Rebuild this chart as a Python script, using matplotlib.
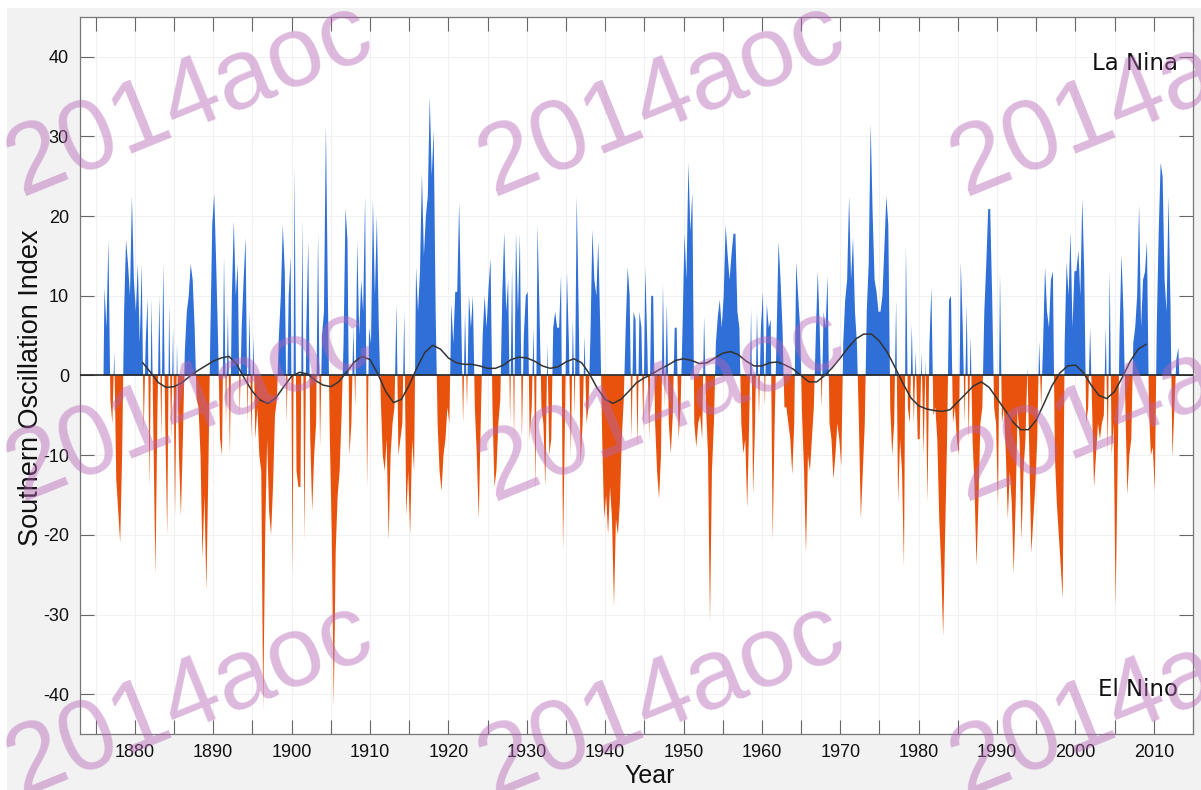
import numpy as np
import matplotlib
matplotlib.use("Agg")
import matplotlib.pyplot as plt
from matplotlib.patches import Rectangle
from matplotlib.ticker import MultipleLocator, FuncFormatter

plt.rcParams['axes.unicode_minus'] = False

# Quarterly Southern Oscillation Index values (4 per year)
first_year = 1876
soi_1870s = [11, 6, 17, -3,  -6, 3, -13, -17,  -21, -10, 8, 17,  14, 10, 22.5, 12]
soi_1880s = [8, 14, 4, 14,  -7, 4, 9.7, -14,  9.5, -8, -25, -5,  10, -8, 14, -6,
             -20, 9, -8, 6,  -17.6, 4, -10, -17.6,  -8, 3, 8, 10,  14, 12, 6, -3,
             -4, -10, -23, -15,  -27, -12, 5, 19]
soi_1890s = [22.8, 14, 4, -8,  -10, 15, -6, 8,  -10, 10, 19.4, 10,  14, -5, 6, 12,
             17.3, -6, 8, -8,  5, -8, -4, -10,  -12, -42, -20, -8,  -17, -20, -14, -5,
             -3, 5, 10, 18.9,  13, -6, 10, 15]
soi_1900s = [-25, 26, -12, -14,  -14, 19.6, -20.7, 6,  16.8, -8, -17, -10,  -6, 17.8, -9, 5,
             8, 31.4, 10, -8,  -20, -41.6, -22, -15,  -12, -5, 4, 21,  17, -10, -6, 6,
             -4, 16.8, 5, 12,  8, 22.5, -14, 6]
soi_1910s = [4, 22, 10, 20,  6, -3, -10, -12,  -8, -20.7, -10, -6,  -4, 9, -10, -8,
             -6, 8, -17.6, -12,  -20, -8, -12, 13.6,  8, 13, 25.4, 15,  20, 22.5, 35, 25,
             30.8, 8, -6, -12,  -14.5, -10, -8, -4]
soi_1920s = [-6, 9, 4, 10.5,  10.5, 21.7, 8, -6,  8, -4, 10, 6,  10, -4, -10, -18,
             -6, 5, 10, 6,  11, 14.7, -4, -14,  -12, -6, -3, 10,  18, 8, 12, -6,
             13.6, -8, 18, 8,  17.8, -8, 5, 10]
soi_1930s = [10.5, -8, -4, 6,  -14.5, 18.9, 8, -4,  -6, -14, 4, -10,  -8, 6, 8, 6,
             6, 12.6, -22, -6,  13, 4, -10, 7,  -5, 22.5, 8, -11,  -6, 5, -6, -4,
             5, 18.3, 12, 10,  16.8, 6, -8, -18]
soi_1940s = [-15, -20, -14, -18,  -29, -18, -20, -16,  -8, -3, 6, 13.6,  10, -8, 8, 7,
             -9, 8, 6, -7,  13.6, 4, -8, 10,  10, -6, -12, -15.5,  -10, 11.5, -4, 9,
             -6, -9.8, -5, 6,  6, -8, -4, 6]
soi_1950s = [17.8, 12, 26.7, 18,  23, -6, -9, -6,  -5, -8, 7.4, -4,  -10, -31, -12, -6,
             4, 7.4, 9.5, 6,  10, 18.9, 15.2, 12,  15.2, 17.8, 17.8, 8,  6, -6, -9.8, -8,
             -16.6, -6, 8.4, -15,  -6, 8, -5, 6]
soi_1960s = [10.5, -4, 9, 6,  7, -20.7, -6, 5,  16.8, 12, 6, -4,  -4, -6, -8, -12.4,
             -6, 14.2, 10, 6,  -5, -12, -22.3, -10,  -12, -8, -4, 5,  13.1, 6, -4, 8,
             6, 12.5, -6, -8,  -13, -10, -6, -8]
soi_1970s = [-11.4, 4, 9.5, 12,  22.5, 12, 17.3, 8,  4, -6, -18, -12,  -6, 8, 14, 31.6,
             20.4, 12, 10.5, 8,  8, 10, 16, 22.5,  18.9, -4, -10, -6,  9.5, -16, -8, -12,
             -24, 16.3, -4, -6,  6.4, -6, 3, -8]
soi_1980s = [-8, 3, -10, 2,  -16, 4, 11, -5,  -4, -8, -18, -24,  -32.7, -20, -8, 9.5,
             10, -6, -4, -8,  -10, 14.2, 6, -6,  9, -8, 5, -8,  -14, -23.9, -16, -6,
             -4, 8, 14, 20.9,  20.9, 10, -4, -6]
soi_1990s = [-16.6, 12.9, -6, -4,  -10, -18, -12, -16,  -24.9, -16, -4, -8,  -20.7, -12, -8, 1,
             -10, -22.3, -18, -14,  -8, 4.3, -4, 4,  13.6, 8, 6, 12,  13.1, -10, -16, -20,
             -23.9, -28, 4, 14.2,  10, 18, 6, 13.1]
soi_2000s = [13.1, 15.7, 10, 22.2,  13, -6, -4, 6,  -4, -14, -10, -6,  -8, -6, -5, 6,
             -9.8, 13.1, -10, -6,  -29, -12, 5, 15.2,  8, -4, -15, -10,  -8, 4, 6, 10,
             21.5, 6, 12, 13,  16.8, -4, -10, -9]
soi_2010s = [-14.5, 6, 18, 26.7,  25, 12, 8, 22.5,  9, -10.3, -4, 2,  3.5]

# Smoothed index (black curve), one value per year
smooth_years = list(range(1881, 2010))
smooth_vals = [1.6, 0.4, -0.9, -1.5, -1.4, -0.9, -0.1, 0.6, 1.2,
               1.8, 2.2, 2.4, 1.4, -0.4, -2.0, -3.1, -3.5, -2.8, -1.4,
               -0.1, 0.4, 0.2, -0.6, -1.2, -1.4, -0.8, 0.4, 1.7, 2.4,
               2.0, 0.2, -2.0, -3.4, -3.0, -1.2, 1.0, 2.9, 3.8, 3.3,
               2.2, 1.6, 1.4, 1.4, 1.2, 0.9, 0.9, 1.3, 2.0, 2.3,
               2.2, 1.8, 1.2, 0.9, 1.1, 1.7, 2.1, 1.6, 0.2, -1.6,
               -3.0, -3.5, -3.0, -2.0, -0.9, -0.3, 0.2, 0.8, 1.3, 1.9,
               2.1, 1.9, 1.5, 1.6, 2.2, 2.8, 3.0, 2.6, 1.8, 1.2,
               1.2, 1.6, 1.7, 1.3, 0.8, 0.0, -0.8, -0.8, 0.0, 1.0,
               2.2, 3.5, 4.6, 5.2, 5.2, 4.3, 2.9, 1.0, -1.0, -2.8,
               -3.8, -4.2, -4.4, -4.5, -4.3, -3.3, -2.3, -1.3, -0.8, -1.5,
               -2.9, -4.3, -5.8, -6.8, -6.8, -5.6, -3.5, -1.3, 0.3, 1.2,
               1.3, 0.4, -1.2, -2.5, -2.9, -2.0, -0.2, 1.8, 3.3, 3.9]

yticks = [-40, -30, -20, -10, 0, 10, 20, 30, 40]

soi = np.array(soi_1870s + soi_1880s + soi_1890s + soi_1900s + soi_1910s + soi_1920s +
               soi_1930s + soi_1940s + soi_1950s + soi_1960s + soi_1970s + soi_1980s +
               soi_1990s + soi_2000s + soi_2010s, dtype=float)
t = first_year + (np.arange(len(soi)) + 0.5) / 4.0
# close the series on the zero line at both ends
t = np.concatenate([[t[0] - 0.125], t, [t[-1] + 0.125]])
soi = np.concatenate([[0.0], soi, [0.0]])

W, H = 1201, 790
fig = plt.figure(figsize=(W / 100, H / 100), dpi=100)
fig.patch.set_facecolor('white')
fig.patches.append(Rectangle((7 / W, 0), 1, (H - 8) / H, transform=fig.transFigure,
                             facecolor='#f2f2f2', edgecolor='none', zorder=-10))

ax = fig.add_axes([80 / W, 1 - 734 / H, 1113 / W, 717 / H])
ax.set_facecolor('white')

blue = '#2f6fd8'
orange = '#e8520c'
ax.fill_between(t, soi, 0, where=soi >= 0, interpolate=True, color=blue, lw=0, zorder=2)
ax.fill_between(t, soi, 0, where=soi <= 0, interpolate=True, color=orange, lw=0, zorder=2)
ax.axhline(0, color='#222222', lw=1.2, zorder=3)
ax.plot(smooth_years, smooth_vals, color='#333333', lw=1.1, zorder=4)

ax.set_xlim(1873, 2015)
ax.set_ylim(-45, 45)
ax.xaxis.set_major_locator(MultipleLocator(5))
ax.xaxis.set_major_formatter(FuncFormatter(
    lambda x, p: f"{int(round(x))}" if int(round(x)) % 10 == 0 else ""))
ax.set_yticks(yticks)
ax.tick_params(axis='both', direction='in', length=10, width=0.8, color='#666666',
               top=True, right=True, labelsize=13, labelcolor='#111111')
ax.tick_params(axis='x', pad=7)
ax.tick_params(axis='y', pad=8)
for lab in ax.get_xticklabels() + ax.get_yticklabels():
    lab.set_family('Liberation Sans')
ax.grid(True, color='#f1f1f1', lw=0.8)
ax.set_axisbelow(True)
for s in ax.spines.values():
    s.set_color('#777777')
    s.set_linewidth(0.9)

ax.set_xlabel('Year', fontsize=18, family='Liberation Sans', color='#111111')
ax.xaxis.set_label_coords((650 - 80) / 1113, (734 - 764) / 717)
ax.set_ylabel('Southern Oscillation Index', fontsize=19.5, family='Liberation Sans',
              color='#111111')
ax.yaxis.set_label_coords((44 - 80) / 1113, (734 - 388) / 717)

ax.text(0.9865, (734 - 63) / 717, 'La Nina', transform=ax.transAxes, ha='right',
        va='center', fontsize=16.5, color='#111111', zorder=5)
ax.text(0.9865, (734 - 690) / 717, 'El Nino', transform=ax.transAxes, ha='right',
        va='center', fontsize=16.5, color='#111111', zorder=5)

# watermark
for cy in [100, 405, 700]:
    for cx in [190, 662, 1134]:
        fig.text(cx / W, 1 - cy / H, '2014aoc', fontsize=72, rotation=22,
                 rotation_mode='anchor', ha='center', va='center',
                 family='Liberation Sans', color='#b565b5', alpha=0.45, zorder=10)

fig.savefig('out.png', dpi=100)
